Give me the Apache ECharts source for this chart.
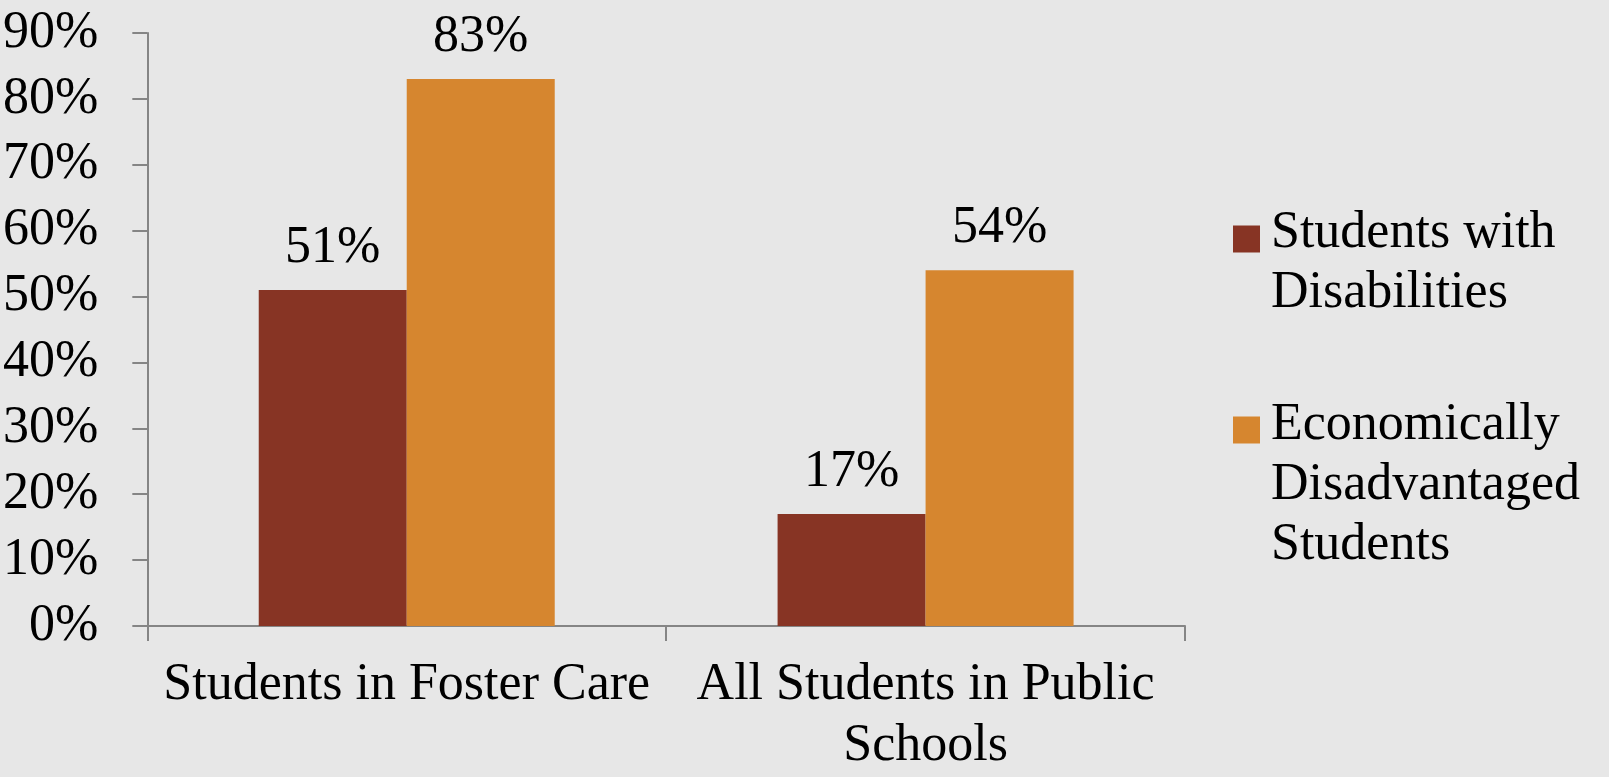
<!DOCTYPE html>
<html>
<head>
<meta charset="utf-8">
<script src="https://cdn.jsdelivr.net/npm/echarts@6/dist/echarts.min.js"></script>
<style>
html,body{margin:0;padding:0;background:#e7e7e7;}
#chart{width:1609px;height:777px;}
</style>
</head>
<body>
<div id="chart"></div>
<script>
var categories = ['Students in Foster Care', 'All Students in Public Schools'];
var categoryLabels = ['Students in Foster Care', 'All Students in Public\nSchools'];
var seriesNames = ['Students with Disabilities', 'Economically Disadvantaged Students'];
var legendLines = [['Students with', 'Disabilities'], ['Economically', 'Disadvantaged', 'Students']];
var disabilities = [51, 17];
var econDisadvantaged = [83, 54];
var yTicks = [0, 10, 20, 30, 40, 50, 60, 70, 80, 90];

var FONT = 'Liberation Serif';
var chart = echarts.init(document.getElementById('chart'));
var axisGray = '#858585';

function legendText(n) {
  var lines = legendLines[seriesNames.indexOf(n)];
  var spacer = lines.length === 2 ? '{s2| }' : '{s3| }';
  return spacer + '\n' + lines.map(function (l) { return '{t|' + l + '}'; }).join('\n');
}
var legendRich = {
  s2: { fontSize: 10, lineHeight: 48 },
  s3: { fontSize: 10, lineHeight: 110 },
  t: { fontFamily: FONT, fontSize: 52, lineHeight: 60, color: '#000', padding: [0, 0, 0, 6] }
};

chart.setOption({
  backgroundColor: '#e7e7e7',
  animation: false,
  textStyle: { fontFamily: FONT, color: '#000' },
  grid: { left: 147, right: 424, top: 33, bottom: 141, containLabel: false },
  legend: [
    {
      data: [seriesNames[0]],
      left: 1233, top: 174, padding: 0, orient: 'vertical',
      itemWidth: 27, itemHeight: 27, icon: 'rect',
      selectedMode: false,
      formatter: legendText,
      textStyle: { fontFamily: FONT, fontSize: 52, color: '#000', rich: legendRich }
    },
    {
      data: [seriesNames[1]],
      left: 1233, top: 335, padding: 0, orient: 'vertical',
      itemWidth: 27, itemHeight: 27, icon: 'rect',
      selectedMode: false,
      formatter: legendText,
      textStyle: { fontFamily: FONT, fontSize: 52, color: '#000', rich: legendRich }
    }
  ],
  xAxis: {
    type: 'category',
    data: categories,
    axisLine: { lineStyle: { color: axisGray, width: 2 } },
    axisTick: { show: true, length: 15, lineStyle: { color: axisGray, width: 2 } },
    axisLabel: {
      fontFamily: FONT, fontSize: 52, color: '#000', lineHeight: 61, margin: 29,
      interval: 0,
      formatter: function (v) { return categoryLabels[categories.indexOf(v)]; }
    },
    splitLine: { show: false }
  },
  yAxis: {
    type: 'value',
    min: yTicks[0], max: yTicks[yTicks.length - 1], interval: 10,
    axisLine: { show: true, lineStyle: { color: axisGray, width: 2 } },
    axisTick: { show: true, length: 15, lineStyle: { color: axisGray, width: 2 } },
    axisLabel: { fontFamily: FONT, fontSize: 52, color: '#000', margin: 49, formatter: '{value}%' },
    splitLine: { show: false }
  },
  series: [
    {
      name: seriesNames[0], type: 'bar', data: disabilities,
      barWidth: 148, barGap: '0%',
      itemStyle: { color: '#873424' },
      label: { show: true, position: 'top', distance: 16, fontFamily: FONT, fontSize: 52, color: '#000', formatter: '{c}%' }
    },
    {
      name: seriesNames[1], type: 'bar', data: econDisadvantaged,
      barWidth: 148, barGap: '0%',
      itemStyle: { color: '#d6862f' },
      label: { show: true, position: 'top', distance: 16, fontFamily: FONT, fontSize: 52, color: '#000', formatter: '{c}%' }
    }
  ]
});
</script>
</body>
</html>
